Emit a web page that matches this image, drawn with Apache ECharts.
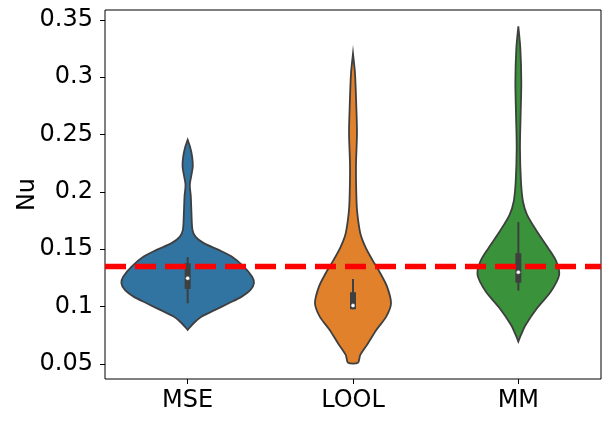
<!DOCTYPE html>
<html>
<head>
<meta charset="utf-8">
<title>Nu</title>
<script src="https://cdn.jsdelivr.net/npm/echarts@6/dist/echarts.min.js"></script>
<style>
    html, body { margin: 0; padding: 0; background: #fff; }
    #container { width: 610px; height: 423px; }
</style>
</head>
<body>
<div id="container"></div>
<script type="text/javascript">
// categories and axis ticks
var categories = ['MSE', 'LOOL', 'MM'];
var yTicks = [0.05, 0.1, 0.15, 0.2, 0.25, 0.3, 0.35];
var refLine = 0.135;

// violin outlines: value levels (top -> bottom) and half widths in category units
var mseLevels = [0.2453, 0.2395, 0.2308, 0.2221, 0.2133, 0.2061, 0.1959, 0.1814, 0.1669, 0.1610, 0.1553, 0.1494,
                 0.1436, 0.1349, 0.1261, 0.1204, 0.1145, 0.1087, 0.1029, 0.0971, 0.0913, 0.0855, 0.0797];
var mseHalf   = [0, 0.014, 0.027, 0.031, 0.021, 0.013, 0.019, 0.023, 0.029, 0.047, 0.097, 0.188,
                 0.266, 0.339, 0.390, 0.401, 0.380, 0.327, 0.248, 0.166, 0.085, 0.036, 0];

var loolLevels = [0.3204, 0.3035, 0.2744, 0.2512, 0.2221, 0.1930, 0.1814, 0.1640, 0.1523, 0.1407, 0.1291,
                  0.1174, 0.1029, 0.0913, 0.0797, 0.0681, 0.0579, 0.0511];
var loolHalf   = [0, 0.012, 0.020, 0.024, 0.018, 0.021, 0.026, 0.044, 0.074, 0.117, 0.165,
                  0.206, 0.230, 0.201, 0.141, 0.091, 0.044, 0.030];

var mmLevels = [0.3442, 0.3253, 0.2962, 0.2672, 0.2381, 0.2090, 0.1916, 0.1799, 0.1654, 0.1509, 0.1392,
                0.1276, 0.1131, 0.0986, 0.0840, 0.0753, 0.0695];
var mmHalf   = [0, 0.012, 0.018, 0.014, 0.010, 0.016, 0.028, 0.053, 0.113, 0.181, 0.230,
                0.247, 0.197, 0.113, 0.044, 0.016, 0];

// inner box: [whisker low, q1, median, q3, whisker high]
var mseBox  = [0.1029, 0.1154, 0.1247, 0.1378, 0.1431];
var loolBox = [0.0977, 0.0977, 0.1009, 0.1125, 0.1241];
var mmBox   = [0.1139, 0.1209, 0.1300, 0.1465, 0.1736];

var colors = ['#3274a1', '#e1812c', '#3a923a'];
var edge = '#3f3f3f';

var levelsAll = [mseLevels, loolLevels, mmLevels];
var halfAll = [mseHalf, loolHalf, mmHalf];
var boxAll = [mseBox, loolBox, mmBox];

var dom = document.getElementById('container');
var myChart = echarts.init(dom, null, {renderer: 'canvas'});

function renderViolin(params, api) {
    var i = api.value(0);
    var levels = levelsAll[i], half = halfAll[i], box = boxAll[i];
    var band = api.size([1, 0])[0];
    var cx = api.coord([i, 0])[0];
    var yOf = function (v) { return api.coord([i, v])[1]; };
    var pts = [];
    var k;
    for (k = 0; k < levels.length; k++) {
        pts.push([cx + half[k] * band, yOf(levels[k])]);
    }
    for (k = levels.length - 1; k >= 0; k--) {
        pts.push([cx - half[k] * band, yOf(levels[k])]);
    }
    return {
        type: 'group',
        children: [
            {type: 'polygon', shape: {points: pts, smooth: 0.3},
                style: {fill: colors[i], stroke: edge, lineWidth: 1.8}},
            {type: 'line', shape: {x1: cx, y1: yOf(box[0]), x2: cx, y2: yOf(box[4])},
                style: {stroke: edge, lineWidth: 2}},
            {type: 'rect', shape: {x: cx - 3, y: yOf(box[3]), width: 6, height: yOf(box[1]) - yOf(box[3])},
                style: {fill: edge}},
            {type: 'circle', shape: {cx: cx, cy: yOf(box[2]), r: 2},
                style: {fill: '#fff', stroke: edge, lineWidth: 0.4}}
        ]
    };
}

// horizontal dashed reference line across the whole plot
function renderRef(params, api) {
    var cs = params.coordSys;
    var y = api.coord([0, api.value(1)])[1];
    return {
        type: 'line',
        shape: {x1: cs.x, y1: y, x2: cs.x + cs.width, y2: y},
        style: {stroke: '#ff0000', lineWidth: 5.5, lineDash: [21, 9]}
    };
}

var font = 'DejaVu Sans';

var option = {
    animation: false,
    backgroundColor: '#fff',
    grid: {
        left: 105, right: 9, top: 10, bottom: 44,
        containLabel: false,
        outerBoundsMode: 'none',
        show: true, borderColor: '#000', borderWidth: 1, backgroundColor: 'transparent'
    },
    xAxis: {
        type: 'category',
        data: categories,
        boundaryGap: true,
        axisLine: {show: false},
        axisTick: {show: true, alignWithLabel: true, length: 5, lineStyle: {color: '#000', width: 1}},
        axisLabel: {color: '#000', fontFamily: font, fontSize: 24, margin: 10},
        splitLine: {show: false}
    },
    yAxis: {
        type: 'value',
        min: 0.0369,
        max: 0.3585,
        name: 'Nu',
        nameLocation: 'middle',
        nameGap: 65,
        nameMoveOverlap: false,
        nameTextStyle: {color: '#000', fontFamily: font, fontSize: 24},
        axisLine: {show: false},
        axisTick: {show: true, length: 5, customValues: yTicks, lineStyle: {color: '#000', width: 1}},
        axisLabel: {color: '#000', fontFamily: font, fontSize: 24, margin: 12, customValues: yTicks},
        splitLine: {show: false}
    },
    series: [
        {
            type: 'custom',
            renderItem: renderViolin,
            data: categories.map(function (c, i) { return [i, boxAll[i][2]]; }),
            encode: {x: 0, y: 1},
            clip: false,
            z: 2
        },
        {
            type: 'custom',
            renderItem: renderRef,
            data: [[0, refLine]],
            encode: {x: 0, y: 1},
            z: 10
        }
    ]
};

myChart.setOption(option);
</script>
</body>
</html>
